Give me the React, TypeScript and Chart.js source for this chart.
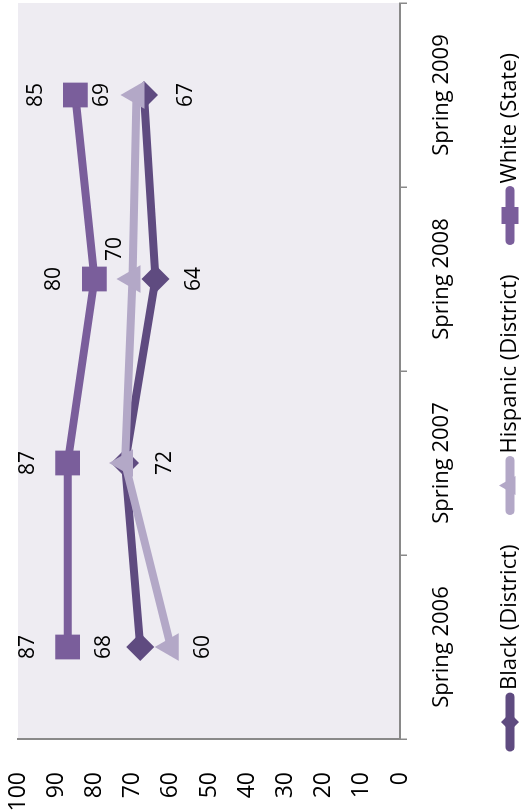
import React, { useEffect, useRef } from 'react';
import { Chart, registerables } from 'chart.js';

Chart.register(...registerables);

// ---- data ----
const categories = ['Spring 2006', 'Spring 2007', 'Spring 2008', 'Spring 2009'];
const seriesNames = ['Black (District)', 'Hispanic (District)', 'White (State)'];
const blackDistrict = [68, 72, 64, 67];
const hispanicDistrict = [60, 72, 70, 69];
const whiteState = [87, 87, 80, 85];
const valueMin = 0;
const valueMax = 100;
const valueStep = 10;

// ---- style ----
const FONT = "'Open Sans', 'Noto Sans', sans-serif";
const COLORS = ['#5F4B80', '#B3A8C7', '#7A5E9B'];
const POINT_STYLES: any[] = ['rectRot', 'triangle', 'rect'];
const POINT_RADII = [14, 16, 17.5];
const AXIS_GREY = '#898989';
const PLOT_BG = '#EEECF2';

// label offsets (dx, dy) relative to each point, null = no label
const LABEL_OFFSETS: (number[] | null)[][] = [
  [[0, -36], [0, 40], [0, 38], [0, 42]],
  [[0, 32], null, [30, -18], [0, -34]],
  [[0, -40], [0, -40], [0, -40], [0, -39]],
];

const bgPlugin = {
  id: 'plotBg',
  beforeDraw(chart: any) {
    const { ctx, chartArea } = chart;
    ctx.save();
    ctx.fillStyle = PLOT_BG;
    ctx.fillRect(chartArea.left, chartArea.top, chartArea.right - chartArea.left, chartArea.bottom - chartArea.top);
    ctx.restore();
  },
};

const labelPlugin = {
  id: 'valueLabels',
  afterDatasetsDraw(chart: any) {
    const { ctx } = chart;
    ctx.save();
    ctx.font = `21px ${FONT}`;
    ctx.fillStyle = '#000';
    ctx.textAlign = 'center';
    ctx.textBaseline = 'middle';
    chart.data.datasets.forEach((ds: any, i: number) => {
      const meta = chart.getDatasetMeta(i);
      meta.data.forEach((pt: any, j: number) => {
        const off = LABEL_OFFSETS[i][j];
        if (!off) return;
        ctx.fillText(String(ds.data[j]), pt.x + off[0], pt.y + off[1]);
      });
    });
    ctx.restore();
  },
};

function drawMarker(ctx: CanvasRenderingContext2D, style: string, x: number, y: number, r: number) {
  ctx.beginPath();
  if (style === 'rect') {
    ctx.rect(x - r, y - r, 2 * r, 2 * r);
  } else if (style === 'rectRot') {
    ctx.moveTo(x, y - r);
    ctx.lineTo(x + r, y);
    ctx.lineTo(x, y + r);
    ctx.lineTo(x - r, y);
    ctx.closePath();
  } else {
    ctx.moveTo(x, y - r);
    ctx.lineTo(x + r * 0.866, y + r * 0.5);
    ctx.lineTo(x - r * 0.866, y + r * 0.5);
    ctx.closePath();
  }
  ctx.fill();
}

const legendPlugin = {
  id: 'customLegend',
  afterDraw(chart: any) {
    const { ctx, width } = chart;
    const lineLen = 58;
    const gap = 3;
    const itemGap = 30;
    const cy = 510;
    ctx.save();
    ctx.font = `22px ${FONT}`;
    const widths = seriesNames.map((n) => ctx.measureText(n).width);
    const total = widths.reduce((a, b) => a + b, 0) + seriesNames.length * (lineLen + gap) + itemGap * (seriesNames.length - 1);
    let x = width / 2 - total / 2 + 3;
    const markerR = [9, 11, 8.5];
    seriesNames.forEach((name, i) => {
      ctx.strokeStyle = COLORS[i];
      ctx.fillStyle = COLORS[i];
      ctx.lineWidth = 9;
      ctx.lineCap = 'round';
      ctx.beginPath();
      ctx.moveTo(x + 4, cy);
      ctx.lineTo(x + lineLen - 4, cy);
      ctx.stroke();
      drawMarker(ctx, POINT_STYLES[i], x + lineLen / 2, cy, markerR[i]);
      ctx.fillStyle = '#000';
      ctx.textAlign = 'left';
      ctx.textBaseline = 'middle';
      ctx.fillText(name, x + lineLen + gap, cy);
      x += lineLen + gap + widths[i] + itemGap;
    });
    ctx.restore();
  },
};

export default function App() {
  const ref = useRef<HTMLCanvasElement | null>(null);

  useEffect(() => {
    if (!ref.current) return;
    Chart.defaults.font.family = FONT;
    const seriesData = [blackDistrict, hispanicDistrict, whiteState];
    const chart = new Chart(ref.current, {
      type: 'line',
      data: {
        labels: categories,
        datasets: seriesData.map((d, i) => ({
          label: seriesNames[i],
          data: d,
          borderColor: COLORS[i],
          backgroundColor: COLORS[i],
          borderWidth: 8,
          pointStyle: POINT_STYLES[i],
          pointRadius: POINT_RADII[i],
          pointHoverRadius: POINT_RADII[i],
          pointBorderWidth: 0,
          pointBackgroundColor: COLORS[i],
          pointBorderColor: COLORS[i],
          fill: false,
          tension: 0,
          order: 3 - i,
        })),
      },
      options: {
        responsive: false,
        animation: false,
        layout: { autoPadding: false, padding: { top: 18, right: 3, left: 0, bottom: 0 } },
        plugins: {
          legend: { display: false },
          tooltip: { enabled: false },
        },
        scales: {
          x: {
            type: 'category',
            offset: true,
            grid: {
              display: true,
              drawOnChartArea: false,
              drawTicks: true,
              tickLength: 7,
              color: AXIS_GREY,
              lineWidth: 1.5,
              offset: true,
            },
            border: { display: true, color: AXIS_GREY, width: 2 },
            ticks: {
              font: { size: 22, family: FONT },
              color: '#000',
              padding: 22,
              maxRotation: 0,
              autoSkip: false,
            },
            afterFit: (s: any) => {
              s.height = 123;
              s.paddingLeft = 0;
              s.paddingRight = 0;
              s.paddingTop = 0;
              s.paddingBottom = 0;
            },
          },
          y: {
            min: valueMin,
            max: valueMax,
            grid: { display: false },
            border: { display: true, color: AXIS_GREY, width: 2 },
            ticks: {
              stepSize: valueStep,
              font: { size: 23, family: FONT },
              color: '#000',
              padding: 25,
            },
            afterFit: (s: any) => {
              s.width = 71;
              s.paddingLeft = 0;
              s.paddingRight = 0;
              s.paddingTop = 0;
              s.paddingBottom = 0;
            },
          },
        },
      },
      plugins: [bgPlugin, labelPlugin, legendPlugin],
    });
    return () => chart.destroy();
  }, []);

  return (
    <div style={{ position: 'fixed', left: 0, top: 0, width: 523, height: 810, overflow: 'hidden', background: '#fff' }}>
      <div
        style={{
          position: 'absolute',
          left: 0,
          top: 0,
          width: 810,
          height: 523,
          transformOrigin: '0 0',
          transform: 'translateY(810px) rotate(-90deg)',
        }}
      >
        <canvas ref={ref} width={810} height={523} style={{ display: 'block', width: 810, height: 523 }} />
      </div>
    </div>
  );
}
